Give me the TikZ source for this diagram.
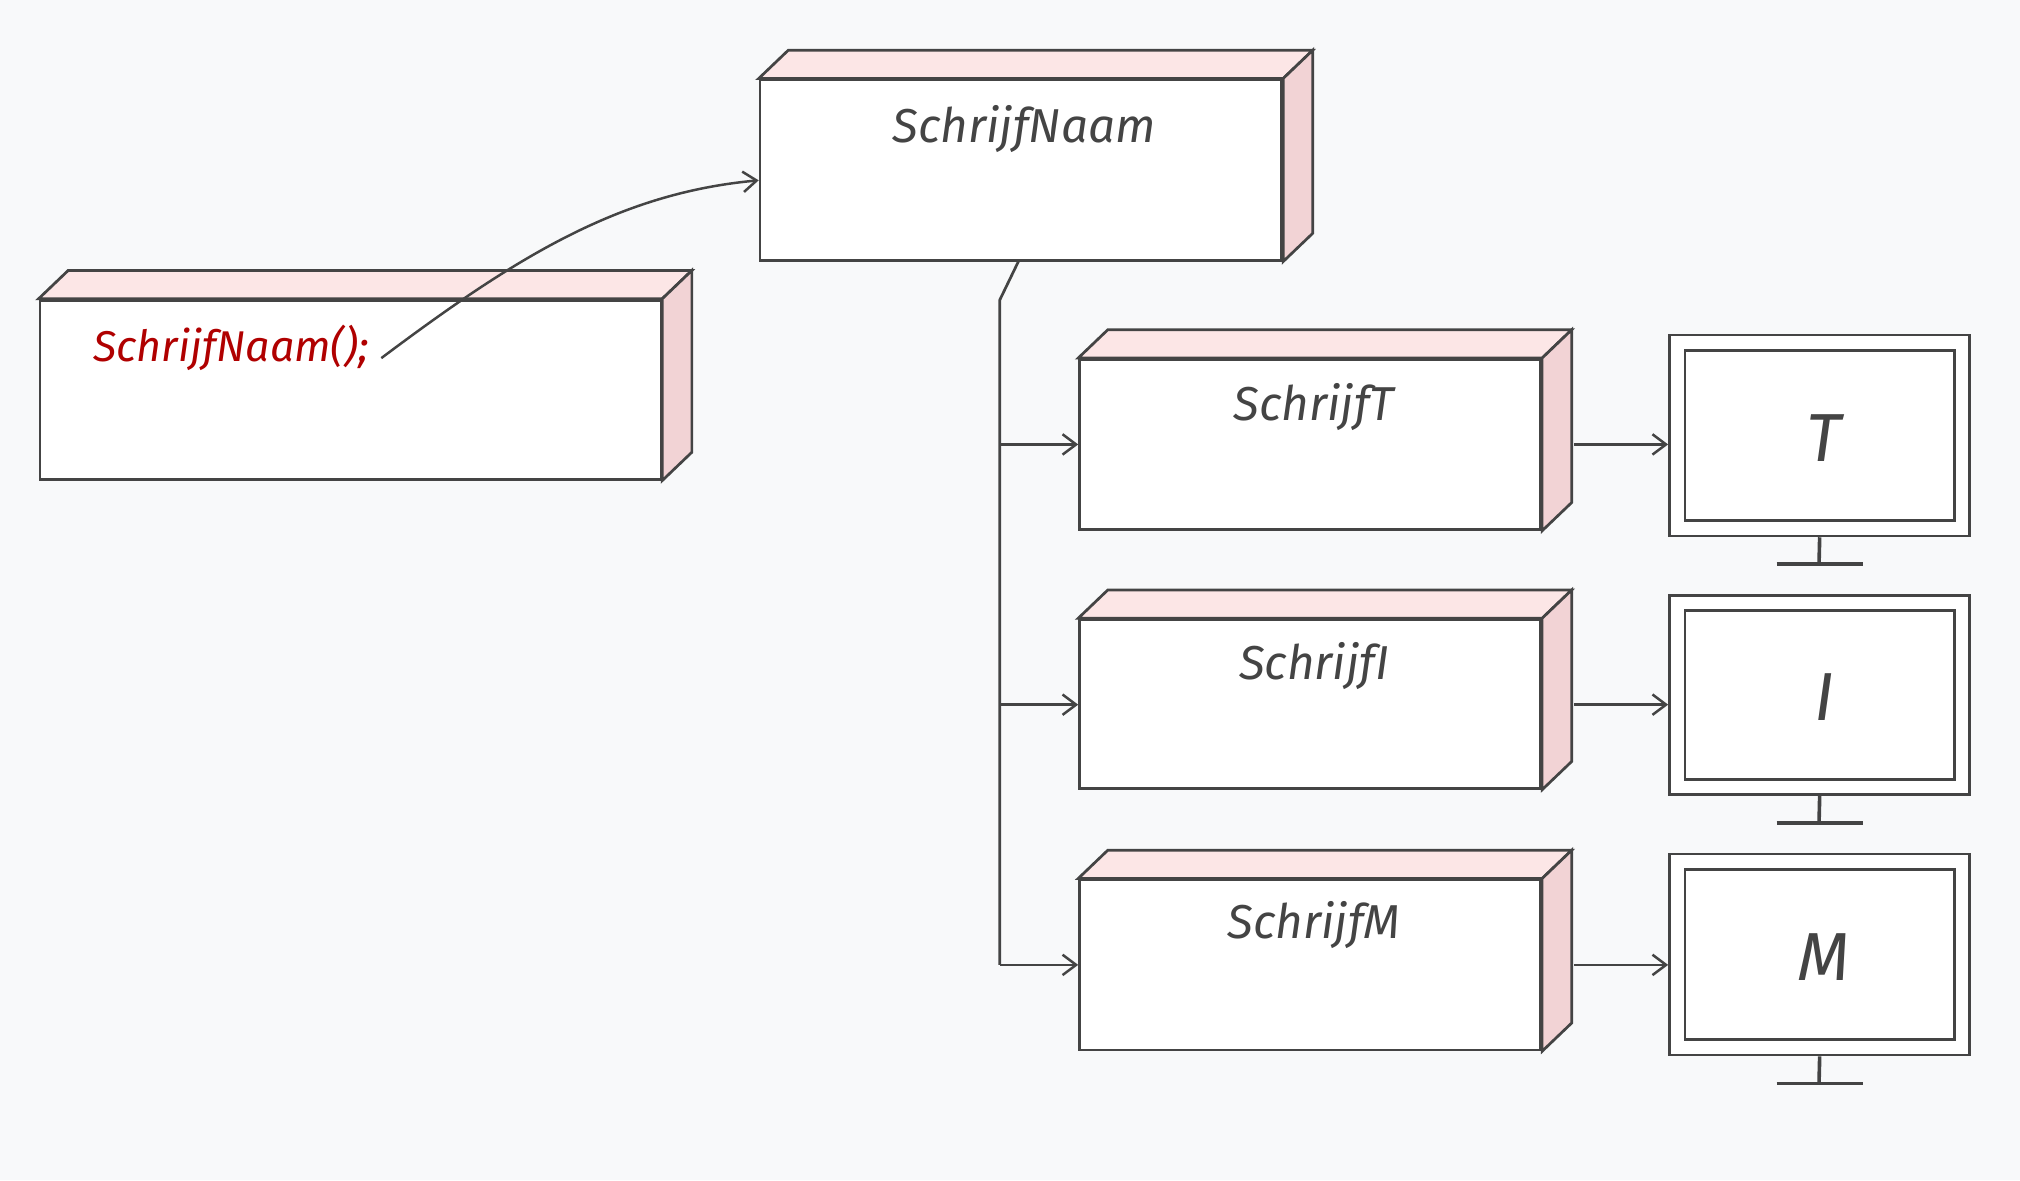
\documentclass[tikz,border=0pt]{standalone}
\usepackage{fontspec}
\setmainfont{Fira Sans}
\usetikzlibrary{arrows.meta,calc}
\definecolor{bg}{HTML}{F8F9FA}
\definecolor{ln}{HTML}{444444}
\definecolor{topf}{HTML}{FCE6E6}
\definecolor{sidef}{HTML}{F2D3D5}
\definecolor{redt}{HTML}{B00000}
\tikzset{
  face/.style={draw=ln, line width=0.6pt, fill=white, inner sep=0pt},
  lbl/.style={font=\itshape\fontsize{10.5}{12}\selectfont, text=ln},
  arr/.style={draw=ln, line width=0.55pt, -{Straight Barb[length=3pt,width=4.5pt]}},
  mon/.style={draw=ln, line width=0.6pt, fill=white, inner sep=0pt},
}
\newcommand{\cube}[5]{% name, x1, y1, x2, y2
  \node[face, minimum width={(#4-#2)*0.01cm}, minimum height={(#5-#3)*0.01cm}] (#1) at ({(#2+#4)/2},{(#3+#5)/2}) {};
  \draw[ln, line width=0.6pt, fill=topf] (#1.north west) -- ++(23,-22) -- ($(#1.north east)+(23,-22)$) -- (#1.north east) -- cycle;
  \draw[ln, line width=0.6pt, fill=sidef] (#1.north east) -- ++(23,-22) -- ($(#1.south east)+(23,-22)$) -- (#1.south east) -- cycle;
}
\newcommand{\monitor}[4]{% name, y1, y2, text
  \node[mon, minimum width=2.33cm, minimum height={(#3-#2)*0.01cm}] (#1) at (1412.5,{(#2+#3)/2}) {};
  \node[mon, minimum width=2.09cm, minimum height={(#3-#2-24)*0.01cm}] (#1i) at (1412.5,{(#2+#3)/2}) {};
  \node[lbl, font=\itshape\fontsize{15}{18}\selectfont] at (1416,{(#2+#3)/2+2}) {#4};
  \coordinate (#1b) at (1412,#3+22);
  \draw[ln, line width=0.8pt] (#1.south) -- (#1b);
  \draw[ln, line width=0.8pt] ($(#1b)+(-33,0)$) -- ($(#1b)+(34,0)$);
}
\begin{document}
\begin{tikzpicture}[x=0.01cm,y=-0.01cm]
\fill[bg] (0,0) rectangle (1568,916);
\useasboundingbox (0,0) rectangle (1568,916);
\cube{main}{590}{62}{995}{202}
\cube{call}{31}{233}{513}{372}
\cube{t}{838}{279}{1196}{411}
\cube{i}{838}{481}{1196}{612}
\cube{m}{838}{683}{1196}{815}
\node[lbl] at (795,100) {SchrijfNaam};
\node[lbl, text=redt, anchor=west, font=\itshape\fontsize{9.5}{11}\selectfont] (ct) at (60,270) {SchrijfNaam();};
\node[lbl] at (1020,316) {SchrijfT};
\node[lbl] at (1020,517) {SchrijfI};
\node[lbl] at (1020,718) {SchrijfM};
\monitor{mt}{260}{416}{T}
\monitor{mi}{462}{617}{I}
\monitor{mm}{663}{819}{M}
\coordinate (cs) at (296,278);
\draw[arr] (cs) .. controls (400,200) and (480,150) .. (main.west |- 0,140);
\coordinate (tr) at (776,233);
\draw[ln, line width=0.6pt] (791,202) -- (tr) -- (776,749);
\draw[arr] (776,345) -- (t.west |- 0,345);
\draw[arr] (776,547) -- (i.west |- 0,547);
\draw[arr] (776,749) -- (m.west |- 0,749);
\draw[arr] (1222,345) -- (mt.west |- 0,345);
\draw[arr] (1222,547) -- (mi.west |- 0,547);
\draw[arr] (1222,749) -- (mm.west |- 0,749);
\end{tikzpicture}
\end{document}
